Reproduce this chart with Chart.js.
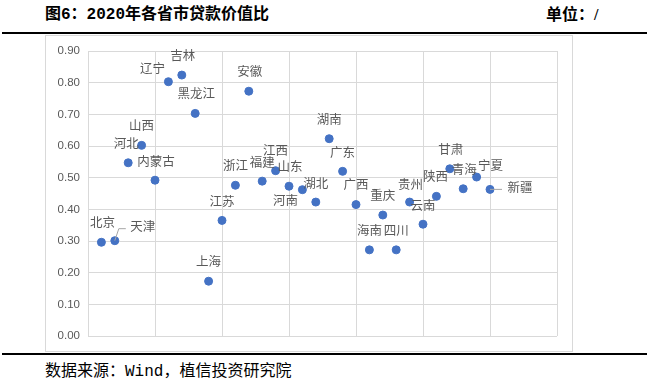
<!DOCTYPE html>
<html>
<head>
<meta charset="utf-8">
<script src="https://cdn.jsdelivr.net/npm/chart.js@4.4.0/dist/chart.umd.min.js"></script>
<style>
  body { margin: 0; background: #fff; width: 653px; height: 392px; position: relative; overflow: hidden; }
  .title { position: absolute; top: 5px; left: 45px; font: bold 16px "Liberation Mono", "Noto Sans CJK SC"; color: #000; line-height: 20px; }
  .unit { position: absolute; top: 5px; left: 546px; font: bold 16px "Liberation Serif", "Noto Sans CJK SC"; color: #000; line-height: 20px; }
  .rule { position: absolute; left: 2px; width: 645px; height: 2px; background: #000; }
  .box { position: absolute; left: 45px; top: 35px; width: 528px; height: 317px; border: 1px solid #d9d9d9; box-sizing: border-box; }
  .box canvas { position: absolute; left: 0; top: 0; }
  .source { position: absolute; top: 362px; left: 45px; font: 16px "Liberation Mono", "Noto Sans CJK SC"; color: #000; line-height: 20px; }
</style>
</head>
<body>
<div class="title">图6：2020年各省市贷款价值比</div>
<div class="unit">单位：/</div>
<div class="rule" style="top:32px"></div>
<div class="box"><canvas id="ltvChart" width="526" height="315"></canvas></div>
<div class="rule" style="top:353px"></div>
<div class="source">数据来源：Wind，植信投资研究院</div>
<script>
// provinces in x order, 1..30
const provinces = ['北京', '天津', '河北', '山西', '内蒙古', '辽宁', '吉林', '黑龙江', '上海', '江苏',
  '浙江', '安徽', '福建', '江西', '山东', '河南', '湖北', '湖南', '广东', '广西',
  '海南', '重庆', '四川', '贵州', '云南', '陕西', '甘肃', '青海', '宁夏', '新疆'];
const ltvValues = [0.296, 0.301, 0.547, 0.602, 0.492, 0.803, 0.824, 0.703, 0.173, 0.365,
  0.476, 0.773, 0.489, 0.522, 0.473, 0.462, 0.423, 0.623, 0.520, 0.415,
  0.272, 0.382, 0.272, 0.423, 0.353, 0.441, 0.528, 0.465, 0.502, 0.463];
const yTicks = ['0.00', '0.10', '0.20', '0.30', '0.40', '0.50', '0.60', '0.70', '0.80', '0.90'];

// label placement relative to the point (px), like Excel's data labels
const labelOffsets = [[1, -20], [28, -14], [-2, -20], [0, -20], [1, -19], [-16, -13], [1, -20], [1, -20], [0, -20], [0, -19],
  [0, -20], [1, -20], [0, -19], [0, -20], [1, -20], [-17, 11], [0, -19], [0, -19], [0, -19], [0, -20],
  [0, -20], [0, -20], [0, -20], [1, -18], [0, -19], [-1, -20], [1, -20], [1, -20], [14, -12], [30, -2]];
// leader lines for labels pushed away from their point
const leaders = { 1: [[4, -12], [11, -12]], 29: [[12, 0]] };

const points = provinces.map((p, i) => ({ x: i + 1, y: ltvValues[i] }));

const pointLabels = {
  id: 'pointLabels',
  afterDatasetsDraw(chart) {
    const ctx = chart.ctx;
    const meta = chart.getDatasetMeta(0);
    ctx.save();
    meta.data.forEach((el, i) => {
      const lines = leaders[i];
      if (lines) {
        ctx.strokeStyle = '#a6a6a6';
        ctx.lineWidth = 1;
        ctx.beginPath();
        ctx.moveTo(el.x, el.y);
        lines.forEach(p => ctx.lineTo(el.x + p[0], el.y + p[1]));
        ctx.stroke();
      }
      ctx.font = '12.5px "Noto Sans CJK SC"';
      ctx.fillStyle = '#595959';
      ctx.textAlign = 'center';
      ctx.textBaseline = 'middle';
      ctx.fillText(provinces[i], el.x + labelOffsets[i][0], el.y + labelOffsets[i][1]);
    });
    ctx.restore();
  }
};

new Chart(document.getElementById('ltvChart'), {
  type: 'scatter',
  data: {
    datasets: [{
      data: points,
      backgroundColor: '#4472c4',
      borderColor: '#4472c4',
      pointRadius: 4,
      pointHoverRadius: 4
    }]
  },
  options: {
    responsive: false,
    animation: false,
    devicePixelRatio: 1,
    layout: { padding: { top: 15, right: 15, bottom: 15, left: 0 } },
    plugins: { legend: { display: false }, tooltip: { enabled: false } },
    scales: {
      x: {
        min: 0, max: 35,
        ticks: { display: false, stepSize: 5 },
        grid: { color: '#d9d9d9', drawTicks: false },
        border: { display: false },
        afterFit: s => { s.height = 0; }
      },
      y: {
        min: 0, max: 0.9,
        ticks: {
          stepSize: 0.1,
          padding: 8,
          color: '#595959',
          font: { family: 'Liberation Sans', size: 11.5 },
          callback: (v, i) => yTicks[i]
        },
        grid: { color: '#d9d9d9', drawTicks: false },
        border: { display: false },
        afterFit: s => { s.width = 42; }
      }
    }
  },
  plugins: [pointLabels]
});
</script>
</body>
</html>
